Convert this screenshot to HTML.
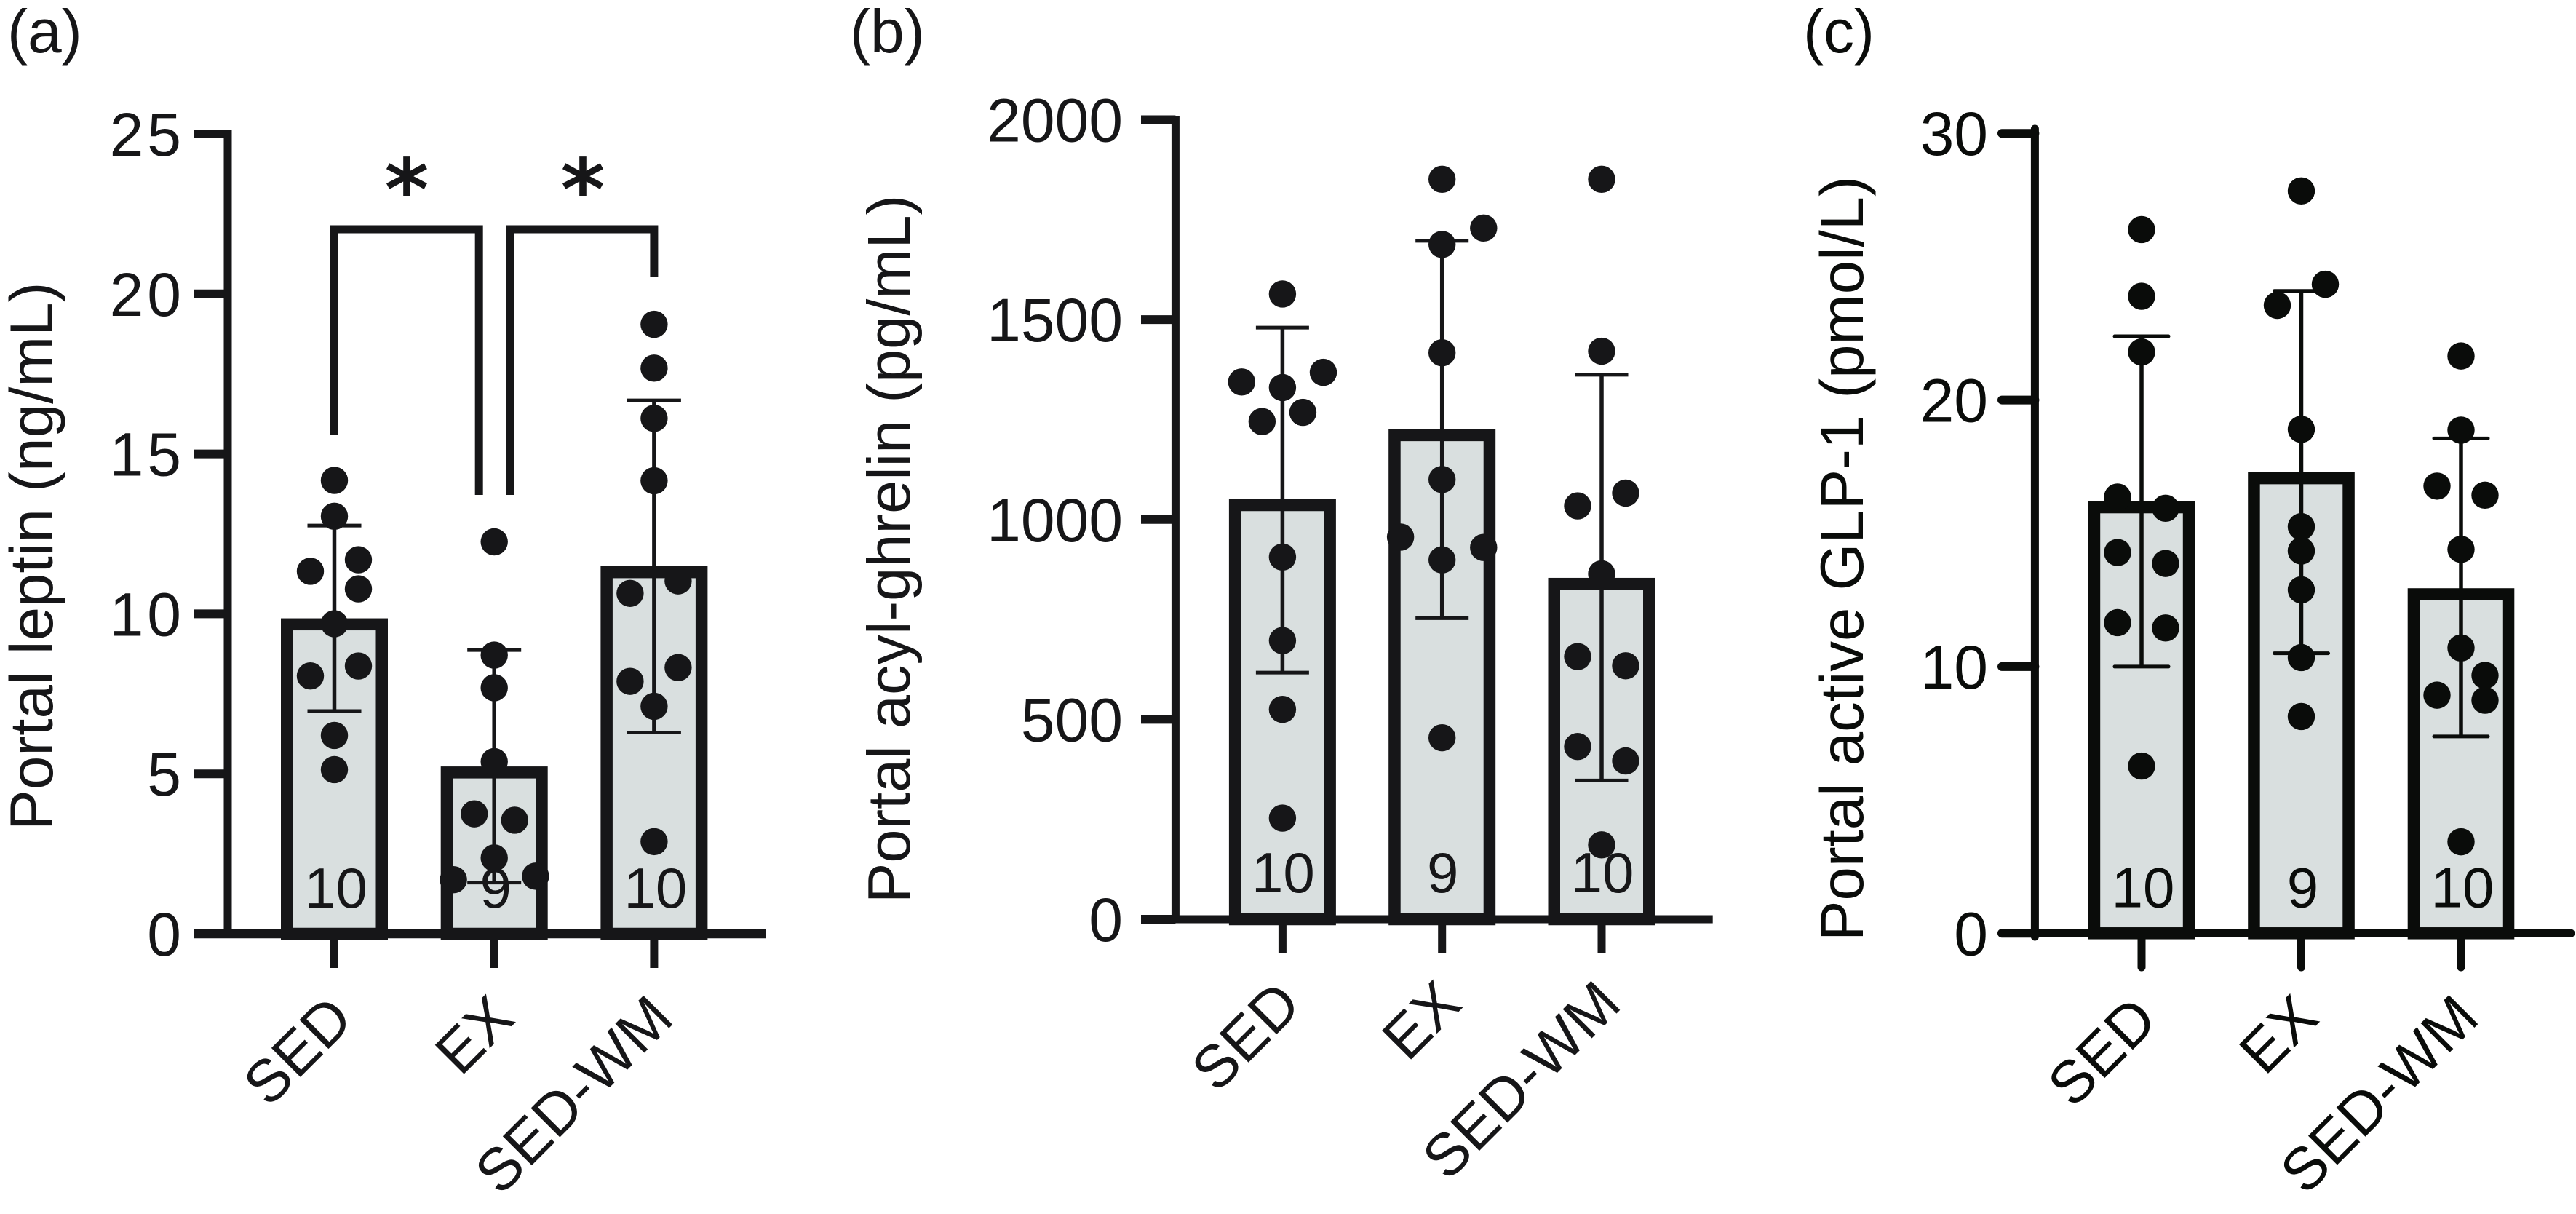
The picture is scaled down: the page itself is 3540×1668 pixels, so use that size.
<!DOCTYPE html>
<html lang="en">
<head>
<meta charset="utf-8">
<title>Portal hormones by group</title>
<style>
html,body{margin:0;padding:0;background:#fff;}
svg{display:block;}
text{font-family:"Liberation Sans",Arial,sans-serif;}
</style>
</head>
<body>
<svg id="figure" xmlns="http://www.w3.org/2000/svg" width="3540" height="1668" viewBox="0 0 3540 1668">
  <rect x="0" y="0" width="3540" height="1668" fill="#ffffff"/>
  <text x="10" y="72" font-size="84" fill="#161618">(a)</text>
  <text x="1168" y="72" font-size="84" fill="#161618">(b)</text>
  <text x="2478" y="72" font-size="84" fill="#0a0c0a">(c)</text>
  <text transform="translate(72 1141) rotate(-90)" font-size="83.7" fill="#161618">Portal leptin (ng/mL)</text>
  <text transform="translate(1250 1241) rotate(-90)" font-size="83" fill="#161618">Portal acyl-ghrelin (pg/mL)</text>
  <text transform="translate(2560 1293) rotate(-90)" font-size="83.3" fill="#0a0c0a">Portal active GLP-1 (pmol/L)</text>
</svg>
<script>
const categories = ['SED', 'EX', 'SED-WM'];
const groupSizes = ['10', '9', '10'];

const leptinTicks = [0, 5, 10, 15, 20, 25];
const leptinTickLabels = ['0', '5', '10', '15', '20', '25'];
const leptinMeans = [9.86, 5.23, 11.49];
const leptinUpper = [12.76, 8.87, 16.67];
const leptinLower = [6.96, 1.60, 6.29];
const leptinSed = [14.17, 13.05, 11.69, 11.33, 10.78, 9.69, 8.37, 8.06, 6.20, 5.13];
const leptinSedSlots = [0, 0, 1, -1, 1, 0, 1, -1, 0, 0];
const leptinEx = [12.25, 8.71, 7.69, 5.38, 3.75, 3.55, 2.37, 1.69, 1.80];
const leptinExSlots = [0, 0, 0, 0, -0.83, 0.85, 0, -1.7, 1.72];
const leptinWm = [19.05, 17.68, 16.11, 14.16, 11.03, 10.64, 8.32, 7.89, 7.11, 2.88];
const leptinWmSlots = [0, 0, 0, 0, 1, -1, 1, -1, 0, 0];

const ghrelinTicks = [0, 500, 1000, 1500, 2000];
const ghrelinTickLabels = ['0', '500', '1000', '1500', '2000'];
const ghrelinMeans = [1051, 1226, 854];
const ghrelinUpper = [1480, 1697, 1362];
const ghrelinLower = [617, 753, 347];
const ghrelinSed = [1564, 1368, 1344, 1330, 1268, 1245, 906, 697, 525, 253];
const ghrelinSedSlots = [0, 1.7, -1.7, 0, 0.85, -0.85, 0, 0, 0, 0];
const ghrelinEx = [1851, 1729, 1688, 1417, 1100, 956, 930, 899, 454];
const ghrelinExSlots = [0, 1.73, 0, 0, 0, -1.73, 1.73, 0, 0];
const ghrelinWm = [1851, 1421, 1066, 1034, 864, 657, 634, 432, 396, 186];
const ghrelinWmSlots = [0, 0, 1, -1, 0, -1, 1, -1, 1, 0];

const glpTicks = [0, 10, 20, 30];
const glpTickLabels = ['0', '10', '20', '30'];
const glpMeans = [16.2, 17.29, 12.94];
const glpUpper = [22.39, 24.09, 18.56];
const glpLower = [10.0, 10.5, 7.38];
const glpSed = [26.39, 23.89, 21.8, 16.36, 15.94, 14.28, 13.87, 11.65, 11.45, 6.27];
const glpSedSlots = [0, 0, 0, -1, 1, -1, 1, -1, 1, 0];
const glpEx = [27.84, 24.34, 23.55, 18.9, 15.25, 14.34, 12.88, 10.34, 8.13];
const glpExSlots = [0, 1, -1, 0, 0, 0, 0, 0, 0];
const glpWm = [21.65, 18.87, 16.77, 16.43, 14.4, 10.7, 9.67, 8.93, 8.74, 3.43];
const glpWmSlots = [0, 0, -1, 1, 0, 0, 1, -1, 1, 0];

const SVG_NS = 'http://www.w3.org/2000/svg';
const figure = document.getElementById('figure');
const BAR_FILL = '#d9dfdf';
const SLOT_PX = 33;

function makeGroup(parent) {
  const el = document.createElementNS(SVG_NS, 'g');
  parent.appendChild(el);
  return el;
}
function makeLine(parent, x1, y1, x2, y2, width, color, cap) {
  const el = document.createElementNS(SVG_NS, 'line');
  el.setAttribute('x1', x1);
  el.setAttribute('y1', y1);
  el.setAttribute('x2', x2);
  el.setAttribute('y2', y2);
  el.setAttribute('stroke', color);
  el.setAttribute('stroke-width', width);
  el.setAttribute('stroke-linecap', cap);
  parent.appendChild(el);
  return el;
}
function makeText(parent, x, y, size, anchor, color, content) {
  const el = document.createElementNS(SVG_NS, 'text');
  el.setAttribute('x', x);
  el.setAttribute('y', y);
  el.setAttribute('font-size', size);
  el.setAttribute('text-anchor', anchor);
  el.setAttribute('fill', color);
  el.textContent = content;
  parent.appendChild(el);
  return el;
}

function drawPanel(p) {
  const panel = makeGroup(figure);
  
  
  const yAxisMax = p.ticks[p.ticks.length - 1];
  const yOf = function (v) { return p.y0 - (v / yAxisMax) * (p.y0 - p.yTop); };
  const xOf = function (i) { return p.x0 + i * p.step; };

  categories.forEach(function (cat, i) {
    const cx = xOf(i);
    const slug = cat.toLowerCase();
    const inset = p.wall / 2;
    const bar = document.createElementNS(SVG_NS, 'rect');
    bar.setAttribute('x', cx - p.barW / 2 + inset);
    bar.setAttribute('y', yOf(p.means[i]) + inset);
    bar.setAttribute('width', p.barW - p.wall);
    bar.setAttribute('height', p.y0 - yOf(p.means[i]) - inset);
    bar.setAttribute('fill', BAR_FILL);
    bar.setAttribute('stroke', p.color);
    bar.setAttribute('stroke-width', p.wall);
    
    
    panel.appendChild(bar);

    const count = makeText(panel, cx + p.nDx, p.y0 - p.nUp, 78, 'middle', p.color, groupSizes[i]);
    
    

    const stem = makeLine(panel, cx, yOf(p.upper[i]), cx, yOf(p.lower[i]), 5.5, p.color, 'butt');
    
    
    const capTop = makeLine(panel, cx - p.capW / 2, yOf(p.upper[i]), cx + p.capW / 2, yOf(p.upper[i]), 5, p.color, p.cap);
    
    
    const capBottom = makeLine(panel, cx - p.capW / 2, yOf(p.lower[i]), cx + p.capW / 2, yOf(p.lower[i]), 5, p.color, p.cap);
    
    

    p.points[i].forEach(function (value, k) {
      const dot = document.createElementNS(SVG_NS, 'circle');
      dot.setAttribute('cx', cx + p.slots[i][k] * SLOT_PX);
      dot.setAttribute('cy', yOf(value));
      dot.setAttribute('r', 18.7);
      dot.setAttribute('fill', p.color);
      
      
      panel.appendChild(dot);
    });

    const tick = makeLine(panel, cx, p.y0, cx, p.xTickEnd, 11, p.color, p.cap);
    
    

    const label = makeText(panel, 0, 0, 82, 'end', p.color, cat);
    label.setAttribute('transform', 'translate(' + (cx + p.labelDx[i]) + ' ' + (p.y0 + p.labelDy[i]) + ') rotate(-45)');
    
    
  });

  const yAxis = makeLine(panel, p.axisX, p.axisTop, p.axisX, p.axisBottom, 11, p.color, p.cap);
  
  
  const xAxis = makeLine(panel, p.tickStart, p.y0, p.xEnd, p.y0, p.xAxisW, p.color, p.cap);
  
  

  p.ticks.forEach(function (v, i) {
    const tick = makeLine(panel, p.tickStart, yOf(v), p.axisX, yOf(v), 12, p.color, p.cap);
    
    
    const label = makeText(panel, p.tickLabelX, yOf(v) + 30, 84, 'end', p.color, p.tickLabels[i]);
    label.setAttribute('letter-spacing', p.tickSpacing);
    
    
  });
  return { panel: panel, xOf: xOf, yOf: yOf };
}

const chartA = drawPanel({
  name: 'portal-leptin', color: '#161618',
  ticks: leptinTicks, tickLabels: leptinTickLabels,
  means: leptinMeans, upper: leptinUpper, lower: leptinLower,
  points: [leptinSed, leptinEx, leptinWm], slots: [leptinSedSlots, leptinExSlots, leptinWmSlots],
  y0: 1283, yTop: 184, axisX: 313, axisTop: 178, axisBottom: 1283, tickStart: 267, xEnd: 1052, xAxisW: 12.5,
  x0: 459.5, step: 219.7, barW: 147, wall: 16.5, capW: 74, cap: 'butt', xTickEnd: 1330,
  tickLabelX: 254, tickSpacing: 5, nDx: 2, nUp: 36,
  labelDx: [29, 31, 30], labelDy: [121, 120, 120]
});

const chartB = drawPanel({
  name: 'portal-acyl-ghrelin', color: '#161618',
  ticks: ghrelinTicks, tickLabels: ghrelinTickLabels,
  means: ghrelinMeans, upper: ghrelinUpper, lower: ghrelinLower,
  points: [ghrelinSed, ghrelinEx, ghrelinWm], slots: [ghrelinSedSlots, ghrelinExSlots, ghrelinWmSlots],
  y0: 1263, yTop: 164.5, axisX: 1615.4, axisTop: 159, axisBottom: 1263, tickStart: 1568, xEnd: 2353.7, xAxisW: 11,
  x0: 1762.4, step: 219.3, barW: 147, wall: 16.5, capW: 73, cap: 'butt', xTickEnd: 1309.4,
  tickLabelX: 1543, tickSpacing: 0, nDx: 1, nUp: 37,
  labelDx: [29, 30, 30], labelDy: [121, 120, 120]
});

const chartC = drawPanel({
  name: 'portal-active-glp1', color: '#0a0c0a',
  ticks: glpTicks, tickLabels: glpTickLabels,
  means: glpMeans, upper: glpUpper, lower: glpLower,
  points: [glpSed, glpEx, glpWm], slots: [glpSedSlots, glpExSlots, glpWmSlots],
  y0: 1282.3, yTop: 183.2, axisX: 2796.4, axisTop: 177, axisBottom: 1287, tickStart: 2751, xEnd: 3533, xAxisW: 11,
  x0: 2943, step: 219.5, barW: 146.6, wall: 16.5, capW: 74, cap: 'round', xTickEnd: 1329,
  tickLabelX: 2732, tickSpacing: 0, nDx: 2, nUp: 36,
  labelDx: [25, 27, 28], labelDy: [123, 120, 120]
});

const bracketValue = 22.02;
const bracketGroup = makeGroup(chartA.panel);



const bracketLeft = document.createElementNS(SVG_NS, 'polyline');
bracketLeft.setAttribute('points', chartA.xOf(0) + ',597 ' + chartA.xOf(0) + ',' + chartA.yOf(bracketValue) + ' ' + (chartA.xOf(1) - 21) + ',' + chartA.yOf(bracketValue) + ' ' + (chartA.xOf(1) - 21) + ',680');
bracketLeft.setAttribute('fill', 'none');
bracketLeft.setAttribute('stroke', '#161618');
bracketLeft.setAttribute('stroke-width', 11);


bracketGroup.appendChild(bracketLeft);

const bracketRight = document.createElementNS(SVG_NS, 'polyline');
bracketRight.setAttribute('points', (chartA.xOf(1) + 22) + ',680 ' + (chartA.xOf(1) + 22) + ',' + chartA.yOf(bracketValue) + ' ' + chartA.xOf(2) + ',' + chartA.yOf(bracketValue) + ' ' + chartA.xOf(2) + ',381');
bracketRight.setAttribute('fill', 'none');
bracketRight.setAttribute('stroke', '#161618');
bracketRight.setAttribute('stroke-width', 11);


bracketGroup.appendChild(bracketRight);

const starLeft = makeText(bracketGroup, 559, 301, 116, 'middle', '#161618', '*');
starLeft.setAttribute('style', 'font-family:"DejaVu Sans",sans-serif;font-weight:bold');



const starRight = makeText(bracketGroup, 801, 301, 116, 'middle', '#161618', '*');
starRight.setAttribute('style', 'font-family:"DejaVu Sans",sans-serif;font-weight:bold');


</script>
</body>
</html>
